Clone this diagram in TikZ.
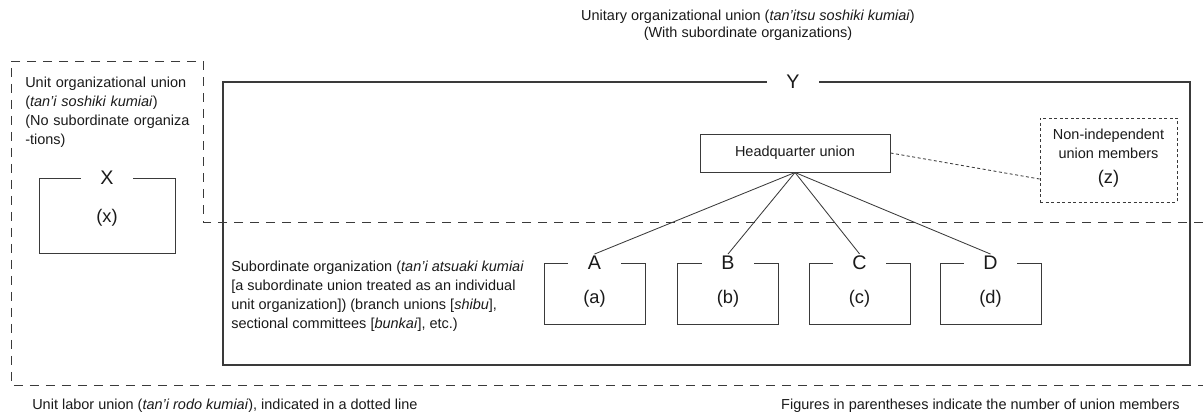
\documentclass[tikz,border=0pt]{standalone}
\usepackage{fontspec}
\setmainfont{Liberation Sans}
\usepackage{tikz}
\usetikzlibrary{positioning,calc}
\definecolor{linegray}{HTML}{3A3A3A}
\definecolor{textdark}{HTML}{1A1A1A}
\tikzset{
  notetext/.style={
    font=\fontsize{10.3pt}{13.4pt}\selectfont, text=textdark,
    inner sep=0pt, align=left,
  },
  unitbox/.style={
    draw=linegray, line width=0.7pt,
    minimum width=101*0.025cm, minimum height=61*0.025cm,
    inner sep=0pt,
  },
  boxletter/.style={
    font=\fontsize{14pt}{14pt}\selectfont, text=textdark,
    fill=white, inner xsep=14pt, inner ysep=1pt,
  },
  membercount/.style={
    font=\fontsize{13pt}{13pt}\selectfont, text=textdark,
  },
  labourline/.style={
    draw=linegray, line width=0.7pt, dash pattern=on 9*0.025cm off 7*0.025cm,
  },
  branchline/.style={
    draw=linegray, line width=0.6pt,
  },
  looseline/.style={
    draw=linegray, line width=0.6pt, dash pattern=on 3*0.025cm off 2.5*0.025cm,
  },
}

\begin{document}
\begin{tikzpicture}[x=0.025cm, y=-0.025cm]
  \useasboundingbox (0,0) rectangle (1203,419);

  % ─── Unit labor union (dashed outline) ─────────────────────────────
  \coordinate (lu-mid) at (1203,222);
  \coordinate (lu-bot) at (1203,385);
  \draw[labourline] (lu-mid) -- (203,222) -- (203,61) -- (11,61)
    -- (11,385) -- (lu-bot);

  % ─── Unitary organizational union Y ────────────────────────────────
  \node[notetext, align=center, font=\fontsize{10.3pt}{12pt}\selectfont]
    (titleY) at (748,25)
    {Unitary organizational union (\textit{tan'itsu soshiki kumiai})\\
     (With subordinate organizations)};
  \draw[draw=linegray, line width=0.8pt] (223,82) rectangle (1190,365);
  \node[boxletter] (Y) at (793,82) {Y};

  % Headquarter and non-independent members
  \node[draw=linegray, line width=0.7pt, notetext,
        minimum width=190*0.025cm, minimum height=38*0.025cm, align=center]
    (hq) at (795,153) {Headquarter union};

  \node[looseline, notetext, align=center,
        minimum width=137*0.025cm, minimum height=84*0.025cm]
    (nonind) at (1108.5,160) {};
  \node[notetext, align=center] (nonindtxt) at (1108.5,144)
    {Non-independent\\union members};
  \node[membercount] (z) at (1108.5,179) {(z)};
  \draw[looseline] (hq.east) -- (nonind.west |- z);

  % ─── Unit organizational union X ───────────────────────────────────
  \node[notetext, anchor=north west, text width=178*0.025cm] (unitX) at (25,77)
    {Unit organizational union\\(\textit{tan'i soshiki kumiai})\\
     (No subordinate organiza\\-tions)};
  \node[unitbox, minimum width=136*0.025cm, minimum height=75*0.025cm]
    (boxX) at (107,215.5) {};
  \node[boxletter] (X) at (boxX.north) {X};
  \node[membercount] at (107,218) {(x)};

  % ─── Subordinate organizations A--D ────────────────────────────────
  \node[notetext, anchor=north west] (subtxt) at (231,261)
    {Subordinate organization (\textit{tan'i atsuaki kumiai}\\
     {[}a subordinate union treated as an individual\\
     unit organization{]}) (branch unions {[}\textit{shibu}{]},\\
     sectional committees {[}\textit{bunkai}{]}, etc.)};

  \foreach \name/\cnt/\cx in {A/a/594.5, B/b/728, C/c/859.5, D/d/990.5}{
    \node[unitbox] (box\name) at (\cx,293.5) {};
    \node[boxletter] (\name) at (box\name.north) {\name};
    \node[membercount] at (\cx,299) {(\cnt)};
    \draw[branchline] (hq.south) -- (\name.north);
  }

  % ─── Notes ──────────────────────────────────────────────────────────
  \node[notetext, anchor=west] (noteL) at (32,406)
    {Unit labor union (\textit{tan'i rodo kumiai}), indicated in a dotted line};
  \node[notetext, anchor=east] (noteR) at (1180,406)
    {Figures in parentheses indicate the number of union members};
\end{tikzpicture}
\end{document}
